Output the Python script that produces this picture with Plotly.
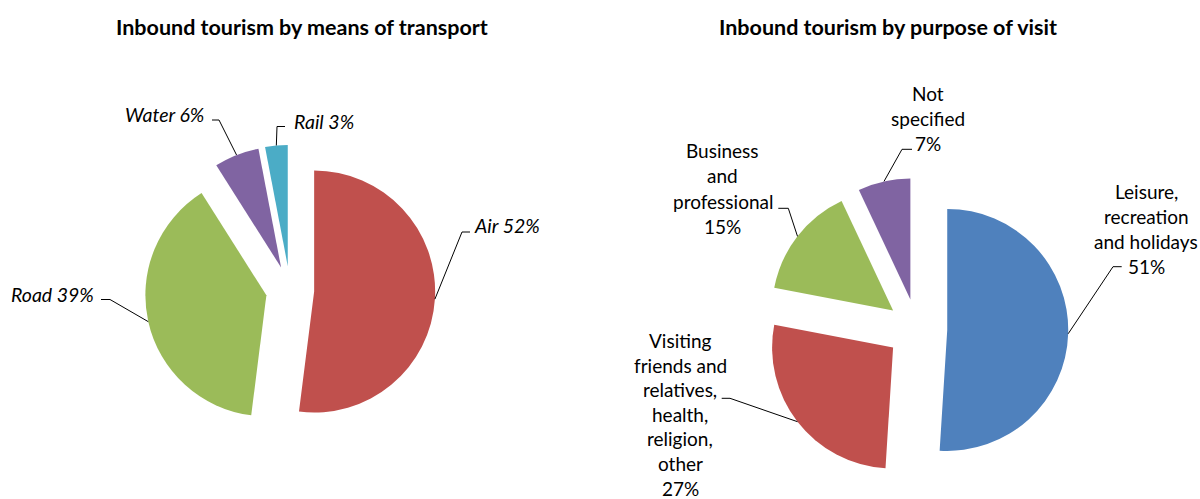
import math
import plotly.graph_objects as go

W, H = 1200, 499

# ---------------- data ----------------
transport_labels = ["Air", "Road", "Water", "Rail"]
transport_values = [52, 39, 6, 3]
transport_colors = ["#C0504D", "#9BBB59", "#8064A2", "#4BACC6"]

purpose_labels = [
    "Leisure, recreation and holidays",
    "Visiting friends and relatives, health, religion, other",
    "Business and professional",
    "Not specified",
]
purpose_values = [51, 27, 15, 7]
purpose_colors = ["#4F81BD", "#C0504D", "#9BBB59", "#8064A2"]
# how each purpose label is broken into lines in the chart
purpose_label_lines = [
    ["Leisure,", "recreation", "and holidays"],
    ["Visiting", "friends and", "relatives,", "health,", "religion,", "other"],
    ["Business", "and", "professional"],
    ["Not", "specified"],
]

titles = ["Inbound tourism by means of transport", "Inbound tourism by purpose of visit"]

# ---------------- layout constants (pixels) ----------------
FONT = "Lato"
LABEL_SIZE = 19
ITALIC_SIZE = 19.5
TITLE_SIZE = 21.5

left_pie = dict(cx=290, cy=290, r=121, pull=0.2)
right_pie = dict(cx=917, cy=329, r=121, pull=0.25)

# label placement: elbow point, end of horizontal tick, text anchor x, first-line y, line spacing
left_label_pos = [
    dict(ex=462, ey=232, hx=470, tx=472, align="left", ty=225),
    dict(ex=110, ey=299.5, hx=101, tx=96, align="right", ty=294.5),
    dict(ex=219, ey=120, hx=212, tx=206, align="right", ty=114),
    dict(ex=277, ey=126.5, hx=285, tx=292, align="left", ty=121.7),
]
right_label_pos = [
    dict(ex=1113, ey=266.7, hx=1121.7, tx=1146, ty=192, dy=24.8),
    dict(ex=730, ey=398.3, hx=721.7, tx=680, ty=340.5, dy=24.6),
    dict(ex=788.3, ey=208.3, hx=778.3, tx=722.7, ty=150, dy=25.5),
    dict(ex=902, ey=149.3, hx=912, tx=927.5, ty=93.3, dy=25),
]
title_pos = [(302, 27), (887.5, 27)]


def px(x):
    return x / W


def py(y):
    return 1 - y / H


def domain_for(p):
    half = p["r"] * (1 + p["pull"])
    return dict(x=[px(p["cx"] - half), px(p["cx"] + half)],
                y=[py(p["cy"] + half), py(p["cy"] - half)])


def mid_angles(values):
    tot = sum(values)
    out, acc = [], 0.0
    for v in values:
        out.append((acc + v / 2) / tot * 360.0)
        acc += v
    return out


def arc_points(p, values):
    pts = []
    for a in mid_angles(values):
        t = math.radians(a)
        d = p["r"] * (1 + p["pull"])
        pts.append((p["cx"] + d * math.sin(t), p["cy"] - d * math.cos(t)))
    return pts


def pct(values):
    tot = sum(values)
    return [f"{round(v / tot * 100)}%" for v in values]


fig = go.Figure()
fig.add_trace(go.Pie(
    labels=transport_labels, values=transport_values,
    marker=dict(colors=transport_colors, line=dict(width=0)),
    sort=False, direction="clockwise", rotation=0, pull=left_pie["pull"],
    textinfo="none", hoverinfo="label+percent", domain=domain_for(left_pie),
    showlegend=False,
))
fig.add_trace(go.Pie(
    labels=purpose_labels, values=purpose_values,
    marker=dict(colors=purpose_colors, line=dict(width=0)),
    sort=False, direction="clockwise", rotation=0, pull=right_pie["pull"],
    textinfo="none", hoverinfo="label+percent", domain=domain_for(right_pie),
    showlegend=False,
))

shapes, annotations = [], []


def leader(start, lp):
    sx, sy = start
    path = (f"M {px(sx)},{py(sy)} L {px(lp['ex'])},{py(lp['ey'])} "
            f"L {px(lp['hx'])},{py(lp['ey'])}")
    shapes.append(dict(type="path", xref="paper", yref="paper", path=path,
                       line=dict(color="black", width=1)))


# left pie labels
for lab, pc, start, lp in zip(transport_labels, pct(transport_values),
                              arc_points(left_pie, transport_values), left_label_pos):
    leader(start, lp)
    annotations.append(dict(
        x=px(lp["tx"]), y=py(lp["ty"]), xref="paper", yref="paper",
        text=f"{lab} {pc}", showarrow=False, xanchor=lp["align"], yanchor="middle",
        font=dict(family=FONT, size=ITALIC_SIZE, color="black", style="italic"),
    ))

# right pie labels
for lines, pc, start, lp in zip(purpose_label_lines, pct(purpose_values),
                                arc_points(right_pie, purpose_values), right_label_pos):
    leader(start, lp)
    for i, ln in enumerate(lines + [pc]):
        annotations.append(dict(
            x=px(lp["tx"]), y=py(lp["ty"] + i * lp["dy"]), xref="paper", yref="paper",
            text=ln, showarrow=False, xanchor="center", yanchor="middle",
            font=dict(family=FONT, size=LABEL_SIZE, color="black"),
        ))

for t, (tx, ty) in zip(titles, title_pos):
    annotations.append(dict(
        x=px(tx), y=py(ty), xref="paper", yref="paper", text=t, showarrow=False,
        xanchor="center", yanchor="middle",
        font=dict(family=FONT, size=TITLE_SIZE, color="black", weight="bold"),
    ))

fig.update_layout(
    width=W, height=H, margin=dict(l=0, r=0, t=0, b=0),
    paper_bgcolor="white", plot_bgcolor="white",
    shapes=shapes, annotations=annotations,
)

fig.write_html("out.html")
